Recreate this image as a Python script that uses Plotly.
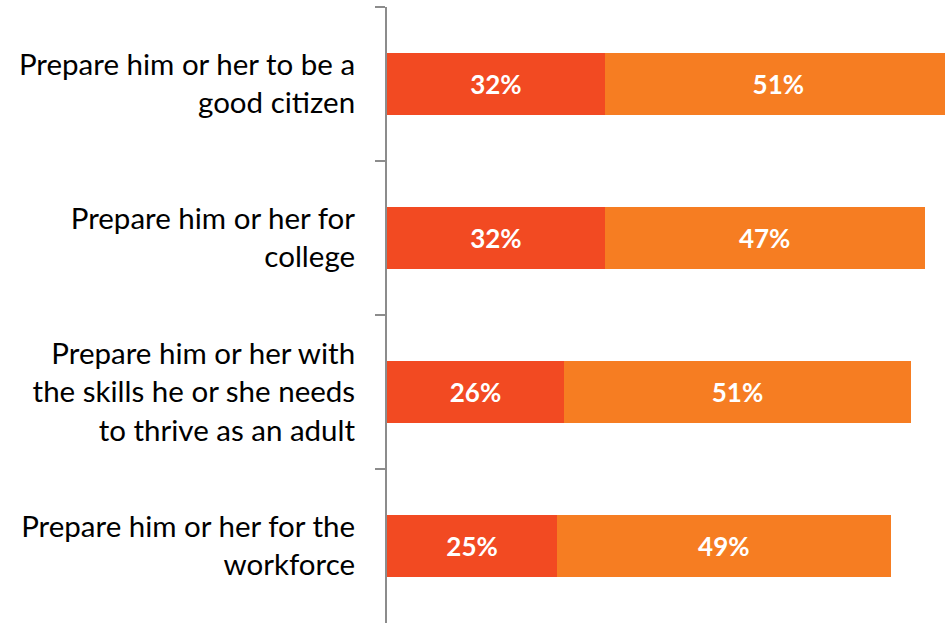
import plotly.graph_objects as go

# Survey items (top to bottom) and the two stacked response shares, in percent
categories = [
    "Prepare him or her to be a<br>good citizen",
    "Prepare him or her for<br>college",
    "Prepare him or her with<br>the skills he or she needs<br>to thrive as an adult",
    "Prepare him or her for the<br>workforce",
]
first_share = [32, 32, 26, 25]
second_share = [51, 47, 51, 49]

first_color = "#F24A22"
second_color = "#F67D22"

fig = go.Figure()
for values, color in ((first_share, first_color), (second_share, second_color)):
    fig.add_trace(go.Bar(
        y=categories,
        x=values,
        orientation="h",
        marker=dict(color=color, line=dict(width=0)),
        width=0.4,
        text=[f"{v}%" for v in values],
        textposition="inside",
        insidetextanchor="middle",
        constraintext="none",
        textfont=dict(family="Lato", size=26, color="white", weight="bold"),
        hoverinfo="skip",
    ))

fig.update_layout(
    barmode="stack",
    width=945,
    height=623,
    margin=dict(l=387, r=0, t=7, b=0),
    paper_bgcolor="white",
    plot_bgcolor="white",
    showlegend=False,
    bargap=0.6,
    xaxis=dict(
        range=[0, 82.0],
        visible=False,
        fixedrange=True,
    ),
    yaxis=dict(
        categoryorder="array",
        categoryarray=categories,
        range=[3.5, -0.5],
        showline=True,
        linecolor="#8C8C8C",
        linewidth=2,
        ticks="outside",
        tickson="boundaries",
        ticklen=10,
        tickwidth=2,
        tickcolor="#8C8C8C",
        ticklabelstandoff=24,
        tickfont=dict(family="Lato", size=29.5, color="#000000"),
        showgrid=False,
        zeroline=False,
        fixedrange=True,
    ),
)

fig.write_html("out.html")
